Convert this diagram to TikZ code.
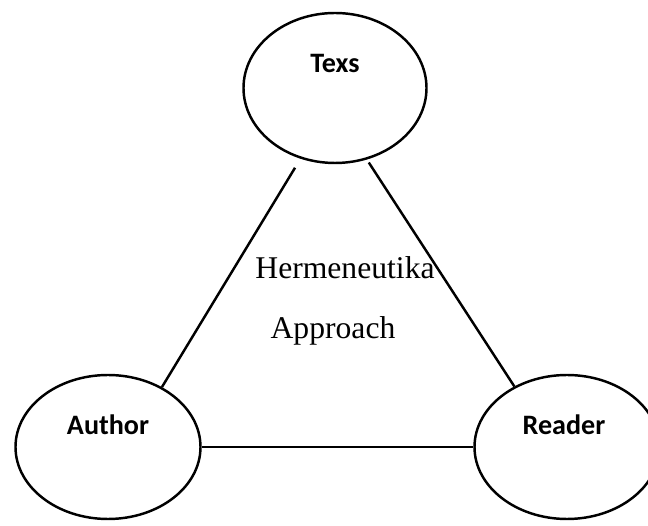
\documentclass[tikz,border=0pt]{standalone}
\usepackage{fontspec}
\setmainfont{Liberation Serif}
\newfontfamily\calfont{Carlito}
\usepackage{tikz}
\usetikzlibrary{shapes.geometric,positioning}

\begin{document}
\begin{tikzpicture}[
  oval/.style={draw, ellipse, line width=1.4pt, minimum width=3.7cm, minimum height=2.88cm},
  ovaltext/.style={font=\calfont\bfseries\fontsize{16}{19}\selectfont},
  link/.style={line width=1.4pt},
  midtext/.style={font=\fontsize{18}{22}\selectfont}]
\useasboundingbox (0,0) rectangle (12.96,-10.52);
\node[oval, minimum width=3.66cm, minimum height=3.0cm, label={[ovaltext, yshift=0.5cm]center:Texs}] (texs) at (6.70,-1.76) {};
\node[oval, label={[ovaltext, yshift=0.44cm]center:Author}] (author) at (2.16,-8.94) {};
\node[oval, label={[ovaltext, yshift=0.44cm, xshift=-0.06cm]center:Reader}] (reader) at (11.34,-8.94) {};
\draw[link, shorten <=6pt] (texs.244) -- (author.48);
\draw[link, shorten <=2pt] (texs.294) -- (reader.131);
\draw[link] (author.east) -- (reader.west);
\node[midtext] (herm) at (6.90,-5.36) {Hermeneutika};
\node[midtext] (appr) at (6.66,-6.62) {Approach};
\end{tikzpicture}
\end{document}
